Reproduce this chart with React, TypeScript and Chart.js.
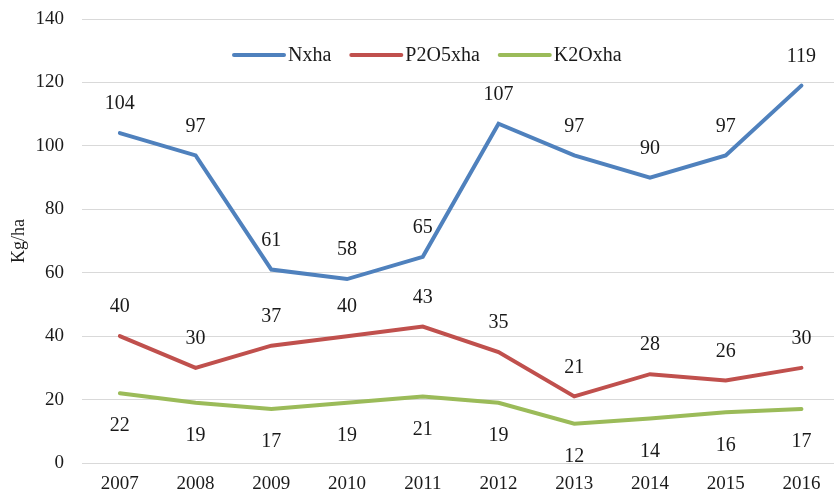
import React, { useEffect, useRef } from "react";
import { Chart, registerables } from "chart.js";

Chart.register(...registerables);

const years = [2007, 2008, 2009, 2010, 2011, 2012, 2013, 2014, 2015, 2016];
const nxha = [104, 97, 61, 58, 65, 107, 97, 90, 97, 119];
const p2o5xha = [40, 30, 37, 40, 43, 35, 21, 28, 26, 30];
const k2oxha = [22, 19, 17, 19, 21, 19, 12.4, 14, 16, 17];
const seriesNames = ["Nxha", "P2O5xha", "K2Oxha"];
const seriesColors = ["#4F81BD", "#C0504D", "#9BBB59"];
const yTicks = [0, 20, 40, 60, 80, 100, 120, 140];

const FONT = "'Liberation Serif', 'Times New Roman', serif";

const dataLabelPlugin = {
  id: "dataLabels",
  afterDatasetsDraw(chart: any) {
    const ctx = chart.ctx;
    ctx.save();
    ctx.font = `20px ${FONT}`;
    ctx.fillStyle = "#1a1a1a";
    ctx.textAlign = "center";
    ctx.textBaseline = "middle";
    chart.data.datasets.forEach((ds: any, i: number) => {
      const meta = chart.getDatasetMeta(i);
      meta.data.forEach((pt: any, j: number) => {
        const v = ds.data[j].y;
        const off = i === 2 ? 33 : -29;
        ctx.fillText(String(Math.round(v)), pt.x, pt.y + off);
      });
    });
    ctx.restore();
  },
};

const legendPlugin = {
  id: "customLegend",
  afterDraw(chart: any) {
    const ctx = chart.ctx;
    ctx.save();
    ctx.font = `20px ${FONT}`;
    ctx.textBaseline = "middle";
    ctx.textAlign = "left";
    const y = 55;
    let x = 234;
    chart.data.datasets.forEach((ds: any) => {
      ctx.strokeStyle = ds.borderColor;
      ctx.lineWidth = 4;
      ctx.lineCap = "round";
      ctx.beginPath();
      ctx.moveTo(x, y);
      ctx.lineTo(x + 50, y);
      ctx.stroke();
      ctx.fillStyle = "#1a1a1a";
      ctx.fillText(ds.label, x + 54, y + 1);
      const w = ctx.measureText(ds.label).width;
      x = x + 54 + w + 20;
    });
    ctx.restore();
  },
};

export default function App() {
  const ref = useRef<HTMLCanvasElement>(null);
  useEffect(() => {
    const series = [nxha, p2o5xha, k2oxha];
    const chart = new Chart(ref.current!, {
      type: "line",
      data: {
        datasets: series.map((arr, i) => ({
          label: seriesNames[i],
          data: arr.map((v, j) => ({ x: years[j], y: v })),
          borderColor: seriesColors[i],
          backgroundColor: seriesColors[i],
          borderWidth: 4,
          borderCapStyle: "round" as const,
          pointRadius: 0,
          tension: 0,
        })),
      },
      options: {
        animation: false,
        responsive: false,
        layout: { autoPadding: false, padding: { top: 19, right: 0, bottom: 0, left: 0 } },
        plugins: { legend: { display: false }, tooltip: { enabled: false } },
        scales: {
          x: {
            type: "linear",
            min: 2006.5,
            max: 2016.43,
            afterBuildTicks: (axis: any) => {
              axis.ticks = years.map((y) => ({ value: y }));
            },
            afterFit: (axis: any) => {
              axis.height = 33;
              axis.paddingLeft = 0;
              axis.paddingRight = 0;
            },
            grid: { display: false, drawTicks: false },
            border: { display: false },
            ticks: {
              autoSkip: false,
              maxRotation: 0,
              padding: 12,
              color: "#1a1a1a",
              font: { family: FONT, size: 19, lineHeight: 1 },
              callback: (v: any) => String(v),
            },
          },
          y: {
            min: 0,
            max: 140,
            afterBuildTicks: (axis: any) => {
              axis.ticks = yTicks.map((v) => ({ value: v }));
            },
            afterFit: (axis: any) => {
              axis.width = 82;
              axis.paddingTop = 0;
              axis.paddingBottom = 0;
            },
            grid: { color: "#D9D9D9", lineWidth: 1, drawTicks: false },
            border: { display: false },
            ticks: {
              padding: 18,
              color: "#1a1a1a",
              font: { family: FONT, size: 19, lineHeight: 1 },
            },
            title: {
              display: true,
              text: "Kg/ha",
              color: "#1a1a1a",
              font: { family: FONT, size: 18 },
              padding: { top: 8, bottom: 4 },
            },
          },
        },
      },
      plugins: [dataLabelPlugin, legendPlugin],
    });
    return () => chart.destroy();
  }, []);
  return (
    <div style={{ position: "absolute", left: 0, top: 0, width: 834, height: 496, background: "#fff" }}>
      <canvas ref={ref} width={834} height={496} style={{ display: "block" }} />
    </div>
  );
}
